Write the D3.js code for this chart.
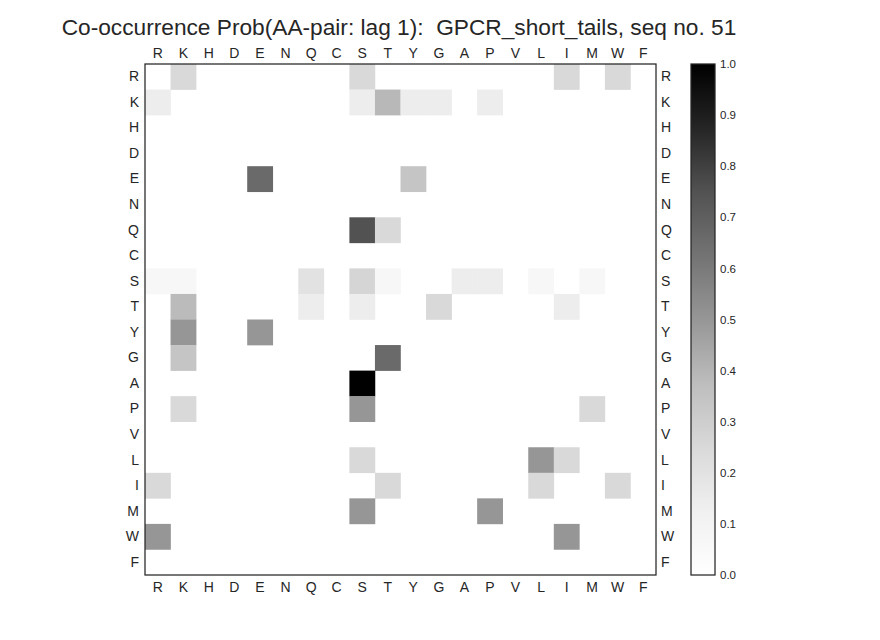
<!DOCTYPE html>
<html>
<head>
<meta charset="utf-8">
<script src="https://cdn.jsdelivr.net/npm/d3@7"></script>
<style>
  body { margin: 0; background: #fff; }
  text { font-family: "Liberation Sans", Arial, sans-serif; }
</style>
</head>
<body>
<script>
// amino acid order, same on both axes
var aaLabels = ["R","K","H","D","E","N","Q","C","S","T","Y","G","A","P","V","L","I","M","W","F"];

// non-zero cells: [row AA, column AA, probability]
var cellRows = ["R","R","R","R",
                "K","K","K","K","K","K",
                "E","E",
                "Q","Q",
                "S","S","S","S","S","S","S","S","S",
                "T","T","T","T","T",
                "Y","Y",
                "G","G",
                "A",
                "P","P","P",
                "L","L","L",
                "I","I","I","I",
                "M","M",
                "W","W"];
var cellCols = ["K","S","I","W",
                "R","S","T","Y","G","P",
                "E","Y",
                "S","T",
                "R","K","Q","S","T","A","P","L","M",
                "K","Q","S","G","I",
                "K","E",
                "K","T",
                "S",
                "K","S","M",
                "S","L","I",
                "R","T","L","W",
                "S","P",
                "R","I"];
var cellValues = [0.25,0.25,0.25,0.25,
                  0.14,0.14,0.39,0.14,0.14,0.14,
                  0.66,0.34,
                  0.75,0.25,
                  0.07,0.07,0.2,0.27,0.07,0.14,0.14,0.07,0.07,
                  0.38,0.14,0.14,0.25,0.14,
                  0.5,0.5,
                  0.34,0.66,
                  1.0,
                  0.25,0.5,0.25,
                  0.25,0.5,0.25,
                  0.25,0.25,0.25,0.25,
                  0.5,0.5,
                  0.5,0.5];

var colorbarTicks = [0.0,0.1,0.2,0.3,0.4,0.5,0.6,0.7,0.8,0.9,1.0];

var titleText = "Co-occurrence Prob(AA-pair: lag 1):  GPCR_short_tails, seq no. 51";

// matplotlib "Greys" stops
var greyStops = ["#ffffff","#f0f0f0","#d9d9d9","#bdbdbd","#969696","#737373","#525252","#252525","#000000"];
var color = d3.scaleLinear()
              .domain(d3.range(9).map(function(i) { return i / 8; }))
              .range(greyStops)
              .clamp(true);

var svg = d3.select("body").append("svg")
            .attr("width", 880)
            .attr("height", 640);

var plotLeft = 145, plotTop = 64, plotSize = 511;

var x = d3.scaleBand().domain(aaLabels).range([plotLeft, plotLeft + plotSize]);
var y = d3.scaleBand().domain(aaLabels).range([plotTop, plotTop + plotSize]);

// Title
svg.append("text")
   .attr("x", 399)
   .attr("y", 35)
   .attr("text-anchor", "middle")
   .style("font-size", "22.7px")
   .style("white-space", "pre")
   .attr("fill", "#262626")
   .text(titleText);

// Cells
var cells = cellValues.map(function(v, i) {
  return { row: cellRows[i], col: cellCols[i], value: v };
});

svg.selectAll("rect.cell")
   .data(cells)
   .enter()
   .append("rect")
   .attr("class", "cell")
   .attr("x", function(d) { return x(d.col); })
   .attr("y", function(d) { return y(d.row); })
   .attr("width", x.bandwidth() + 0.3)
   .attr("height", y.bandwidth() + 0.3)
   .attr("fill", function(d) { return color(d.value); });

// Axes on all four sides, no tick marks
function styleAxis(g) {
  g.select(".domain").remove();
  g.selectAll(".tick line").remove();
  g.selectAll(".tick text")
   .attr("fill", "#262626")
   .style("font-size", "14px")
   .style("font-family", "'Liberation Sans', Arial, sans-serif");
}

svg.append("g")
   .attr("transform", "translate(0," + plotTop + ")")
   .call(d3.axisTop(x).tickSize(0).tickPadding(6))
   .call(styleAxis);

svg.append("g")
   .attr("transform", "translate(0," + (plotTop + plotSize) + ")")
   .call(d3.axisBottom(x).tickSize(0).tickPadding(7))
   .call(styleAxis);

svg.append("g")
   .attr("transform", "translate(" + plotLeft + ",0)")
   .call(d3.axisLeft(y).tickSize(0).tickPadding(6))
   .call(styleAxis);

svg.append("g")
   .attr("transform", "translate(" + (plotLeft + plotSize) + ",0)")
   .call(d3.axisRight(y).tickSize(0).tickPadding(5))
   .call(styleAxis);

// Frame
svg.append("rect")
   .attr("x", plotLeft)
   .attr("y", plotTop)
   .attr("width", plotSize)
   .attr("height", plotSize)
   .attr("fill", "none")
   .attr("stroke", "#262626")
   .attr("stroke-width", 1.25);

// Colorbar
var cbX = 691, cbW = 24;
var defs = svg.append("defs");
var grad = defs.append("linearGradient")
               .attr("id", "greys")
               .attr("x1", 0).attr("y1", 1)
               .attr("x2", 0).attr("y2", 0);
grad.selectAll("stop")
    .data(greyStops)
    .enter()
    .append("stop")
    .attr("offset", function(d, i) { return (i / 8 * 100) + "%"; })
    .attr("stop-color", function(d) { return d; });

svg.append("rect")
   .attr("x", cbX)
   .attr("y", plotTop)
   .attr("width", cbW)
   .attr("height", plotSize)
   .attr("fill", "url(#greys)")
   .attr("stroke", "#262626")
   .attr("stroke-width", 1.25);

var cbScale = d3.scaleLinear().domain([0, 1]).range([plotTop + plotSize, plotTop]);

svg.append("g")
   .attr("transform", "translate(" + (cbX + cbW) + ",0)")
   .call(d3.axisRight(cbScale).tickValues(colorbarTicks).tickFormat(d3.format(".1f")).tickSize(0).tickPadding(5))
   .call(function(g) {
     g.select(".domain").remove();
     g.selectAll(".tick text")
      .attr("fill", "#262626")
      .style("font-size", "11.5px")
      .style("font-family", "'Liberation Sans', Arial, sans-serif");
   });
</script>
</body>
</html>
